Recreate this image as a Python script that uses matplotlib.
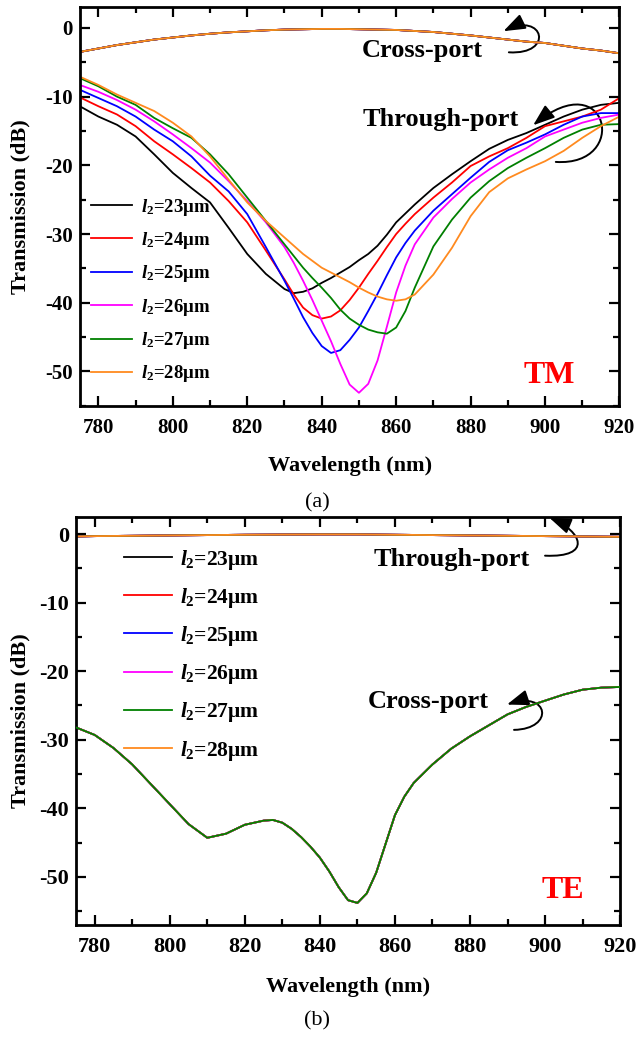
import numpy as np
import matplotlib
matplotlib.use('Agg')
import matplotlib.pyplot as plt
from matplotlib.patches import FancyArrowPatch
from matplotlib.path import Path
from matplotlib.ticker import MultipleLocator

plt.rcParams['font.family'] = ['Liberation Serif', 'DejaVu Serif']
plt.rcParams['font.weight'] = 'bold'
plt.rcParams['axes.unicode_minus'] = False
plt.rcParams['mathtext.fontset'] = 'custom'
plt.rcParams['mathtext.it'] = 'Liberation Serif:italic:bold'
plt.rcParams['mathtext.rm'] = 'Liberation Serif:bold'

# ---- data ----
l2_values = [23, 24, 25, 26, 27, 28]
colors = ['#000000', '#FF0000', '#0000FF', '#FF00FF', '#008000', '#FF8A1F']

wl_tm = [775, 780, 785, 790, 795, 800, 805, 810, 815, 820, 825, 830,
         832.5, 835, 837.5, 840, 842.5, 845, 847.5, 850, 852.5, 855, 857.5,
         860, 862.5, 865, 870, 875, 880, 885, 890, 895, 900, 905, 910, 915, 920]

tm_through = {
    23: [-11.4, -12.9, -14.1, -15.8, -18.4, -21.1, -23.3, -25.4, -29.1, -32.9, -35.8, -38.0,
         -38.6, -38.4, -37.9, -37.1, -36.4, -35.6, -34.8, -33.8, -32.9, -31.7, -30.1,
         -28.3, -27.0, -25.7, -23.3, -21.3, -19.4, -17.6, -16.3, -15.3, -14.1, -12.9, -11.9, -11.2, -10.9],
    24: [-10.1, -11.4, -12.6, -14.3, -16.5, -18.4, -20.4, -22.5, -25.2, -28.3, -32.4, -36.6,
         -38.8, -40.7, -41.8, -42.3, -42.0, -41.1, -39.6, -37.8, -35.8, -33.9, -31.9,
         -30.0, -28.5, -27.1, -24.7, -22.5, -20.1, -18.7, -17.5, -16.0, -14.3, -13.6, -12.9, -11.9, -10.2],
    25: [-9.0, -10.2, -11.4, -12.9, -14.8, -16.5, -18.7, -21.5, -23.8, -27.1, -31.9, -36.8,
         -39.4, -42.1, -44.4, -46.3, -47.3, -46.9, -45.4, -43.6, -41.2, -38.7, -36.0,
         -33.4, -31.3, -29.5, -26.6, -24.2, -21.8, -19.5, -17.8, -16.7, -15.5, -14.1, -12.9, -12.4, -12.4],
    26: [-8.3, -9.3, -10.5, -11.9, -13.6, -15.5, -17.5, -19.6, -22.3, -25.2, -28.3, -31.9,
         -34.2, -36.8, -39.6, -42.6, -45.6, -48.9, -51.9, -53.1, -51.8, -48.4, -43.5,
         -38.5, -34.6, -31.5, -27.6, -24.9, -22.5, -20.6, -18.9, -17.5, -15.8, -14.8, -13.8, -13.1, -12.6],
    27: [-7.3, -8.5, -10.0, -11.2, -13.1, -14.6, -16.0, -18.4, -21.3, -24.7, -28.1, -31.5,
         -33.2, -34.9, -36.4, -37.8, -39.3, -41.0, -42.3, -43.2, -43.9, -44.3, -44.5,
         -43.6, -41.2, -37.8, -31.8, -27.9, -24.7, -22.3, -20.4, -18.9, -17.5, -16.0, -14.8, -14.1, -14.0],
    28: [-7.1, -8.3, -9.7, -10.9, -12.1, -13.8, -15.8, -18.7, -22.1, -25.4, -28.1, -30.5,
         -31.7, -32.9, -33.9, -34.9, -35.6, -36.3, -37.0, -37.8, -38.5, -39.1, -39.5,
         -39.7, -39.5, -38.8, -35.9, -32.0, -27.4, -23.9, -21.9, -20.6, -19.4, -17.9, -16.0, -14.3, -12.9],
}

wl_cross_tm = list(range(775, 921, 5))
tm_cross = [-3.5, -3.0, -2.5, -2.1, -1.7, -1.4, -1.1, -0.85, -0.65, -0.5, -0.35, -0.25,
            -0.2, -0.15, -0.15, -0.2, -0.25, -0.3, -0.45, -0.6, -0.85, -1.1, -1.4, -1.7,
            -2.0, -2.2, -2.6, -3.0, -3.3, -3.7]

wl_through_te = [775, 780, 790, 800, 810, 820, 830, 840, 850, 860, 870, 880, 890, 900, 910, 920]
te_through = [-0.35, -0.3, -0.25, -0.2, -0.15, -0.1, -0.07, -0.05, -0.05, -0.1, -0.15,
              -0.2, -0.25, -0.3, -0.35, -0.4]

wl_cross_te = [775, 780, 785, 790, 795, 800, 805, 810, 815, 820, 825, 827.5, 830, 832.5,
               835, 837.5, 840, 842.5, 845, 847.5, 850, 852.5, 855, 857.5, 860, 862.5,
               865, 870, 875, 880, 885, 890, 895, 900, 905, 910, 915, 920]
te_cross = [-28.2, -29.3, -31.2, -33.6, -36.5, -39.4, -42.3, -44.3, -43.7, -42.4, -41.8, -41.7,
            -42.1, -43.0, -44.2, -45.6, -47.2, -49.2, -51.5, -53.4, -53.8, -52.4, -49.4, -45.2,
            -41.0, -38.3, -36.3, -33.6, -31.3, -29.5, -27.9, -26.3, -25.2, -24.3, -23.4, -22.7,
            -22.4, -22.3]

xticks = [780, 800, 820, 840, 860, 880, 900, 920]
yticks = [0, -10, -20, -30, -40, -50]


def style_axes(ax, ylim, tick_size):
    ax.set_xlim(775, 920)
    ax.set_ylim(*ylim)
    ax.set_xticks(xticks)
    ax.set_yticks(yticks)
    ax.xaxis.set_minor_locator(MultipleLocator(10))
    ax.yaxis.set_minor_locator(MultipleLocator(5))
    ax.tick_params(which='both', direction='in', top=True, right=True,
                   labeltop=False, labelright=False, width=1.6)
    ax.tick_params(which='major', length=7)
    ax.tick_params(which='minor', length=4)
    ax.tick_params(axis='x', which='major', pad=9, labelsize=tick_size)
    ax.tick_params(axis='y', which='major', pad=5, labelsize=tick_size)
    for lab in ax.get_xticklabels() + ax.get_yticklabels():
        lab.set_fontweight('bold')
    for sp in ax.spines.values():
        sp.set_linewidth(2.0)


def curved_arrow(ax, pts):
    codes = [Path.MOVETO, Path.CURVE4, Path.CURVE4, Path.CURVE4]
    arr = FancyArrowPatch(path=Path(pts, codes), transform=ax.transAxes,
                          arrowstyle='-|>,head_length=1.1,head_width=0.4',
                          mutation_scale=12, lw=1.4, color='k', clip_on=False)
    ax.add_patch(arr)


fig = plt.figure(figsize=(6.38, 10.38), dpi=100)
ax1 = fig.add_axes([0.125, 0.609, 0.846, 0.384])
ax2 = fig.add_axes([0.119, 0.109, 0.853, 0.393])

# (a) TM
for l2, c in zip(l2_values, colors):
    ax1.plot(wl_tm, tm_through[l2], color=c, lw=1.3,
             label=r'$\mathit{l}_{\mathrm{2}}$=%d$\mathrm{\mu}$m' % l2)
    ax1.plot(wl_cross_tm, tm_cross, color=c, lw=1.3)
style_axes(ax1, (-55, 3), 15)
ax1.set_xlabel('Wavelength (nm)', fontsize=16, fontweight='bold')
ax1.set_ylabel('Transmission (dB)', fontsize=16, fontweight='bold')
ax1.xaxis.set_label_coords(0.5, -0.125)
ax1.yaxis.set_label_coords(-0.092, 0.5)
ax1.legend(loc='upper left', bbox_to_anchor=(0.02, 0.525), frameon=False,
           borderpad=0, borderaxespad=0, handlelength=2.2, handletextpad=0.5,
           labelspacing=0.66, prop={'size': 13.5, 'weight': 'bold'})
ax1.text(0.634, 0.892, 'Cross-port', transform=ax1.transAxes, ha='center',
         va='center', fontsize=19, fontweight='bold')
ax1.text(0.668, 0.719, 'Through-port', transform=ax1.transAxes, ha='center',
         va='center', fontsize=19, fontweight='bold')
ax1.text(0.869, 0.075, 'TM', transform=ax1.transAxes, ha='center', va='center',
         fontsize=23, fontweight='bold', color='#FF0000')
curved_arrow(ax1, [(0.795, 0.887), (0.88, 0.88), (0.86, 0.99), (0.785, 0.94)])
curved_arrow(ax1, [(0.882, 0.612), (1.02, 0.60), (0.98, 0.86), (0.84, 0.704)])

# (b) TE
for l2, c in zip(l2_values, colors):
    ax2.plot(wl_through_te, te_through, color=c, lw=1.3,
             label=r'$\mathit{l}_{\mathrm{2}}$=%d$\mathrm{\mu}$m' % l2)
    ax2.plot(wl_cross_te, te_cross, color=c, lw=1.3, zorder=3 if l2 == 27 else 2)
style_axes(ax2, (-57, 2.5), 16)
ax2.set_xlabel('Wavelength (nm)', fontsize=16, fontweight='bold')
ax2.set_ylabel('Transmission (dB)', fontsize=16, fontweight='bold')
ax2.xaxis.set_label_coords(0.5, -0.128)
ax2.yaxis.set_label_coords(-0.084, 0.5)
ax2.legend(loc='upper left', bbox_to_anchor=(0.088, 0.925), frameon=False,
           borderpad=0, borderaxespad=0, handlelength=2.25, handletextpad=0.35,
           labelspacing=0.66, prop={'size': 15.5, 'weight': 'bold'})
ax2.text(0.690, 0.895, 'Through-port', transform=ax2.transAxes, ha='center',
         va='center', fontsize=19, fontweight='bold')
ax2.text(0.647, 0.547, 'Cross-port', transform=ax2.transAxes, ha='center',
         va='center', fontsize=19, fontweight='bold')
ax2.text(0.894, 0.083, 'TE', transform=ax2.transAxes, ha='center', va='center',
         fontsize=23, fontweight='bold', color='#FF0000')
curved_arrow(ax2, [(0.862, 0.905), (0.95, 0.90), (0.93, 0.965), (0.87, 0.998)])
curved_arrow(ax2, [(0.805, 0.478), (0.88, 0.48), (0.87, 0.575), (0.792, 0.54)])

fig.text(317 / 638, 1 - 503 / 1038, '(a)', ha='center', va='center',
         fontsize=16, fontweight='normal')
fig.text(317 / 638, 1 - 1021 / 1038, '(b)', ha='center', va='center',
         fontsize=16, fontweight='normal')

fig.savefig('out.png', dpi=100)
